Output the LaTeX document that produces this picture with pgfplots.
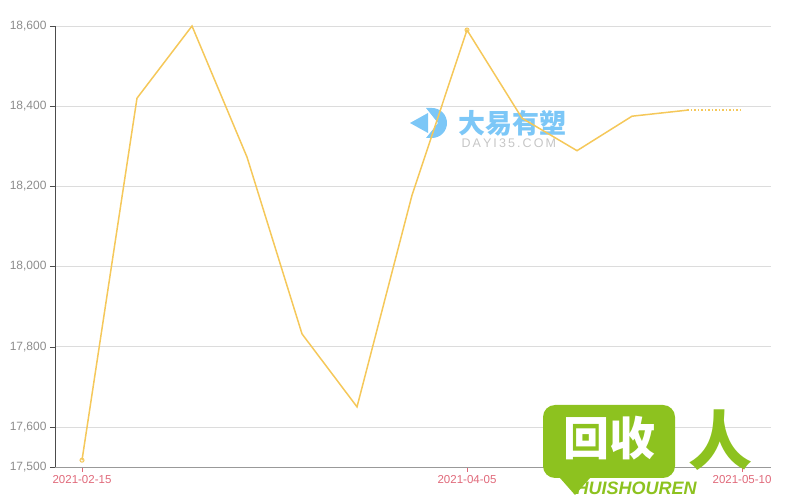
\documentclass[border=0pt]{standalone}
\usepackage{fontspec}
\setmainfont{Liberation Sans}
\newfontfamily\cjk{Noto Sans CJK SC}
\usepackage{pgfplots}
\pgfplotsset{compat=1.18}
\definecolor{linec}{HTML}{F5C85A}
\definecolor{ytickc}{HTML}{8C8C8C}
\definecolor{xtickc}{HTML}{E0697A}
\definecolor{gridc}{HTML}{DCDCDC}
\definecolor{wmblue}{HTML}{7CC7F7}
\definecolor{wmgreen}{HTML}{8DC21F}
\begin{document}
\begin{tikzpicture}[x=1pt,y=1pt]
\useasboundingbox (0,0) rectangle (800,500);
% watermarks
\node[text=wmblue, font=\cjk\bfseries\fontsize{27}{29}\selectfont, anchor=west] at (455,377) {大易有塑};
\node[text=gray!45, font=\fontsize{12.5}{14}\selectfont, anchor=west] at (458,357) {D\,A\,Y\,I\,3\,5\,.\,C\,O\,M};
\fill[wmblue] (410,377) -- (428,387) -- (428,367) -- cycle;
\fill[wmblue] (426,392) -- (432,392) arc (90:-90:15) -- (426,362) -- (438,377) -- cycle;
\begin{axis}[
  at={(55pt,33pt)}, anchor=south west,
  scale only axis, width=716pt, height=441pt,
  xmin=-0.491, xmax=12.527, ymin=17500, ymax=18600,
  xtick={0,7,12},
  xticklabels={2021-02-15,2021-04-05,2021-05-10},
  ytick={17500,17600,17800,18000,18200,18400,18600},
  scaled y ticks=false,
  yticklabel={\pgfmathprintnumber[fixed,precision=0,1000 sep={,},assume math mode=true]{\tick}},
  axis x line*=bottom, axis y line*=left,
  x axis line style={draw=gray!80, -},
  y axis line style={draw=black!70, -},
  tick align=outside, major tick length=5pt,
  x tick style={draw=xtickc},
  y tick style={draw=black!70},
  xticklabel style={text=xtickc, font=\fontsize{11.5}{13}\selectfont},
  yticklabel style={text=ytickc, font=\fontsize{12}{14}\selectfont},
  ymajorgrids, grid style={draw=gridc, line width=0.8pt},
  clip=false,
]
\addplot[linec, line width=1.5pt] coordinates {
  (0,17517) (1,18420) (2,18600) (3,18273) (4,17832) (5,17650)
  (6,18178) (7,18590) (8,18370) (9,18289) (10,18375) (11,18390)
};
\addplot[linec, line width=1.5pt, dotted] coordinates {(11,18390) (12,18390)};
\addplot[only marks, mark=o, mark size=2pt, mark options={draw=linec, fill=white, line width=1pt}] coordinates {(0,17517) (7,18590)};
\end{axis}
% second watermark
\fill[wmgreen, rounded corners=12pt] (543,22) rectangle (675,95);
\fill[wmgreen] (560,22) -- (575,5) -- (590,22) -- cycle;
\node[text=white, font=\cjk\bfseries\fontsize{46}{48}\selectfont] at (609,62) {回收};
\node[text=wmgreen, font=\cjk\bfseries\fontsize{64}{66}\selectfont] at (720,60) {人};
\node[text=wmgreen, font=\bfseries\itshape\fontsize{18}{20}\selectfont, anchor=west] at (572,12) {HUISHOUREN};
\end{tikzpicture}
\end{document}
